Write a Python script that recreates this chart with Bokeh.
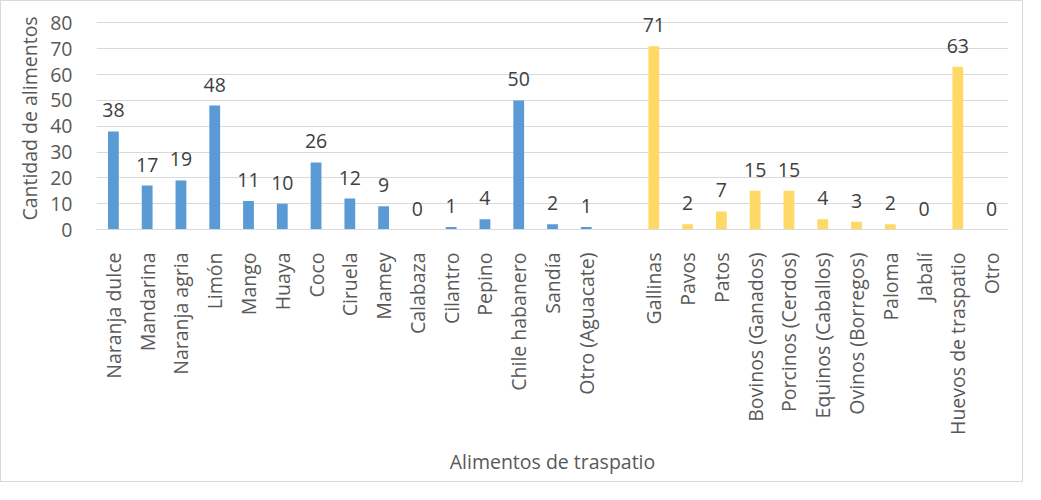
import math
from bokeh.plotting import figure
from bokeh.models import ColumnDataSource, FactorRange, Range1d, FixedTicker
from bokeh.embed import file_html
from bokeh.resources import INLINE
from bokeh.core.properties import value

fruit_cats = ["Naranja dulce", "Mandarina", "Naranja agria", "Limón", "Mango", "Huaya",
              "Coco", "Ciruela", "Mamey", "Calabaza", "Cilantro", "Pepino",
              "Chile habanero", "Sandía", "Otro (Aguacate)"]
fruit_vals = [38, 17, 19, 48, 11, 10, 26, 12, 9, 0, 1, 4, 50, 2, 1]

animal_cats = ["Gallinas", "Pavos", "Patos", "Bovinos (Ganados)", "Porcinos (Cerdos)",
               "Equinos (Caballos)", "Ovinos (Borregos)", "Paloma", "Jabalí",
               "Huevos de traspatio", "Otro"]
animal_vals = [71, 2, 7, 15, 15, 4, 3, 2, 0, 63, 0]

gap = " "
y_ticks = [0, 10, 20, 30, 40, 50, 60, 70, 80]

BLUE = "#5B9BD5"
YELLOW = "#FFD966"
FONT = "Open Sans"
FS = "19.5px"

factors = fruit_cats + [gap] + animal_cats

src = ColumnDataSource(dict(
    cat=fruit_cats + animal_cats,
    val=fruit_vals + animal_vals,
    lbl=[str(v) for v in fruit_vals + animal_vals],
    color=[BLUE] * len(fruit_cats) + [YELLOW] * len(animal_cats),
))

# range extends a little above 80 so the "71" label is not clipped;
# gridlines are only drawn at the ticks (0..80)
p = figure(x_range=FactorRange(factors=factors, range_padding=0, factor_padding=0),
           y_range=Range1d(0, 86),
           width=1023, height=482,
           output_backend="svg", toolbar_location=None,
           min_border_left=95, min_border_right=16,
           min_border_top=6, min_border_bottom=254)
p.styles = {"border": "1px solid #d9d9d9"}

p.vbar(x="cat", top="val", width=0.32, fill_color="color", line_color=None, source=src)
p.text(x="cat", y="val", text="lbl", source=src, text_align="center",
       text_baseline="bottom", y_offset=-14, text_font=value(FONT),
       text_font_size=FS, text_color="#404040")

p.outline_line_color = None
p.xgrid.grid_line_color = None
p.ygrid.grid_line_color = "#d9d9d9"
p.ygrid.grid_line_width = 1

p.yaxis.ticker = FixedTicker(ticks=y_ticks)
p.yaxis.axis_line_color = None
p.yaxis.major_tick_line_color = None
p.yaxis.minor_tick_line_color = None
p.yaxis.major_label_text_font = FONT
p.yaxis.major_label_text_font_size = FS
p.yaxis.major_label_text_color = "#595959"
p.yaxis.major_label_standoff = 18
p.yaxis.axis_label = "Cantidad de alimentos"
p.yaxis.axis_label_text_font = FONT
p.yaxis.axis_label_text_font_size = FS
p.yaxis.axis_label_text_font_style = "normal"
p.yaxis.axis_label_text_color = "#595959"
p.yaxis.axis_label_standoff = 4

p.xaxis.axis_line_color = "#d9d9d9"
p.xaxis.major_tick_line_color = None
p.xaxis.minor_tick_line_color = None
p.xaxis.major_label_orientation = math.pi / 2
p.xaxis.major_label_text_font = FONT
p.xaxis.major_label_text_font_size = FS
p.xaxis.major_label_text_color = "#595959"
p.xaxis.major_label_standoff = 17
p.xaxis.axis_label = "Alimentos de traspatio"
p.xaxis.axis_label_text_font = FONT
p.xaxis.axis_label_text_font_size = FS
p.xaxis.axis_label_text_font_style = "normal"
p.xaxis.axis_label_text_color = "#595959"
p.xaxis.axis_label_standoff = 10

open("out.html", "w").write(file_html(p, INLINE))
